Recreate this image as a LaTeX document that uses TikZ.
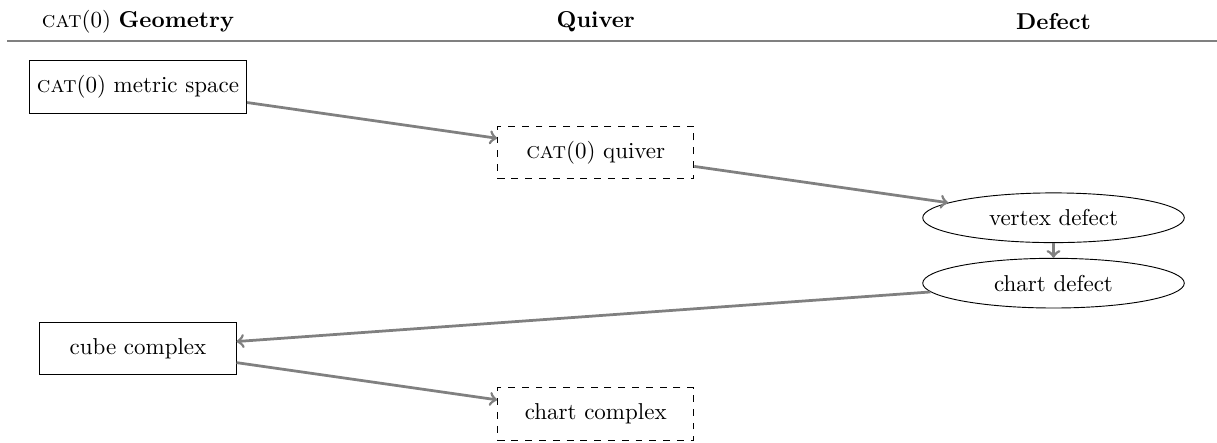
\documentclass[tikz,border=0pt]{standalone}
\usepackage{amsmath,amssymb}
\usepackage{xcolor}
\usepackage{tikz}
\usetikzlibrary{shapes,arrows,positioning,calc}

\begin{document}
\begin{tikzpicture}[
  box/.style={rectangle, draw, minimum width=3cm, minimum height=0.8cm, align=center},
  dbox/.style={box, dashed},
  oval/.style={ellipse, draw, minimum width=4cm, minimum height=0.76cm, align=center},
  arrow/.style={->, very thick, gray}
]
  \useasboundingbox (-2.11,1.33) rectangle (16.5,-5.43);

  % column headers
  \node (hgeo) at (0,1) {\textsc{cat}(0) \textbf{Geometry}};
  \node (hquiv) at (7,1) {\textbf{Quiver}};
  \node (hdef) at (14,1) {\textbf{Defect}};
  \coordinate (rulel) at (-2,0.7);
  \coordinate (ruler) at (16.5,0.7);
  \draw[thick, gray] (rulel) -- (ruler);

  \node[box] (metric) at (0,0) {\textsc{cat}(0) metric space};
  \node[dbox] (quiv) at (7,-1) {\textsc{cat}(0) quiver};
  \node[oval] (vdef) at (14,-2) {vertex defect};
  \node[oval] (cdef) at (14,-3) {chart defect};
  \node[box] (cube) at (0,-4) {cube complex};
  \node[dbox] (ccpx) at (7,-5) {chart complex};

  \draw[arrow] (metric) -- (quiv);
  \draw[arrow] (quiv) -- (vdef);
  \draw[arrow] (vdef) -- (cdef);
  \draw[arrow] (cdef) -- (cube);
  \draw[arrow] (cube) -- (ccpx);
\end{tikzpicture}
\end{document}
